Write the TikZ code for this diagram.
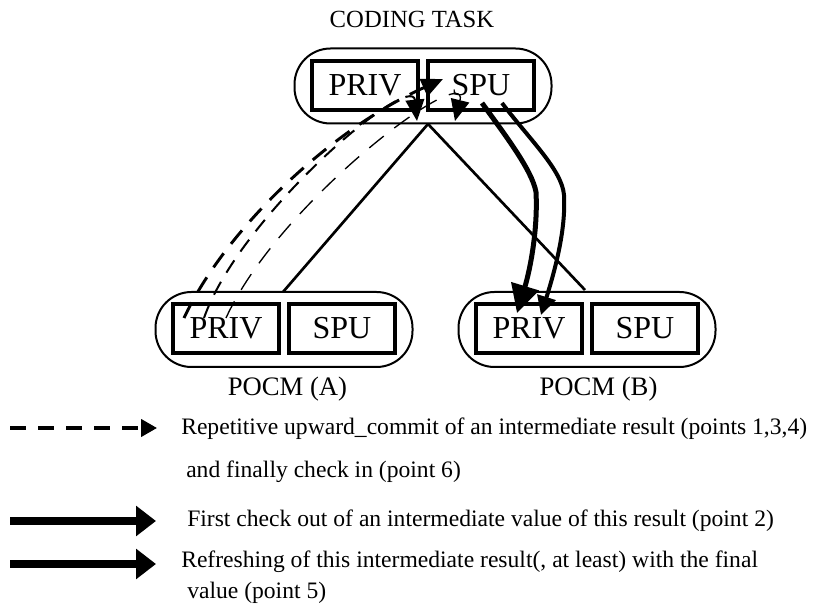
\documentclass[tikz,border=0pt]{standalone}
\usepackage{fontspec}
\setmainfont{Liberation Serif}
\usetikzlibrary{arrows.meta}

\begin{document}
\begin{tikzpicture}[x=0.75pt,y=-0.75pt,
  cell/.style={draw, line width=3pt, minimum width=79.5pt, minimum height=36.75pt,
    inner sep=0pt, font=\fontsize{24}{24}\selectfont},
  pocm/.style={draw, line width=1.5pt, rounded corners=27pt,
    minimum width=192.75pt, minimum height=56.25pt, inner sep=0pt},
  caption/.style={font=\fontsize{20}{20}\selectfont, inner sep=0pt},
  legtext/.style={font=\fontsize{17.7}{17.7}\selectfont, inner sep=0pt, anchor=base west},
  vline/.style={line width=2pt},
  head/.style={-{Triangle[length=16pt,width=14pt]}},
  dashA/.style={line width=2.2pt, dash pattern=on 13pt off 9pt},
  dashB/.style={line width=1.5pt, dash pattern=on 11pt off 8pt},
  dashC/.style={line width=1pt, dash pattern=on 14pt off 10pt},
  thickA/.style={line width=3.75pt, -{Triangle[length=21pt,width=21pt]}},
  thickB/.style={line width=3pt, -{Triangle[length=14pt,width=14pt]}},
  legthick/.style={line width=5.5pt, -{Triangle[length=15pt,width=22pt]}},
  legdash/.style={line width=2.4pt, dash pattern=on 12pt off 9pt, -{Triangle[length=12pt,width=13pt]}}
]
\useasboundingbox (0,0) rectangle (818,605);

% coding task with its two cells
\node[font=\fontsize{18.5}{18.5}\selectfont, inner sep=0pt] (title) at (412,19) {CODING TASK};
\node[pocm] (topc) at (423,86) {};
\node[cell] (tpriv) at (365,85.5) {PRIV};
\node[cell] (tspu) at (481,85.5) {SPU};

% POCM (A)
\node[pocm] (ac) at (284,329.5) {};
\node[cell] (apriv) at (226,328.5) {PRIV};
\node[cell] (aspu) at (342,328.5) {SPU};
\node[caption] (alab) at (287.5,389) {POCM (A)};

% POCM (B)
\node[pocm] (bc) at (587,329.5) {};
\node[cell] (bpriv) at (529,328.5) {PRIV};
\node[cell] (bspu) at (645,328.5) {SPU};
\node[caption] (blab) at (598.5,389) {POCM (B)};

% hierarchy links
\coordinate (apex) at (428,124);
\coordinate (afoot) at (283,292);
\coordinate (bfoot) at (585,290);
\draw[vline] (apex) -- (afoot);
\draw[vline] (apex) -- (bfoot);

% upward commits from POCM (A)
\coordinate (s1) at (184,318);
\coordinate (s2) at (204,318);
\coordinate (s3) at (226,318);
\coordinate (e1) at (443,79);
\coordinate (e2) at (417,121);
\coordinate (e3) at (455,121);
\draw[dashA, head] (s1) .. controls (225,230) and (330,130) .. (e1);
\draw[dashB, head] (s2) .. controls (240,215) and (412,70) .. (e2);
\draw[dashC, head] (s3) .. controls (280,200) and (470,60) .. (e3);

% check out and refresh towards POCM (B)
\coordinate (t1) at (482,103);
\coordinate (t2) at (502,103);
\coordinate (k1) at (536,192);
\coordinate (k2) at (564,195);
\coordinate (f1) at (517,313);
\coordinate (f2) at (541,315);
\draw[thickA] (t1) .. controls (505,135) and (532,170) .. (k1)
  .. controls (538,230) and (530,270) .. (f1);
\draw[thickB] (t2) .. controls (530,140) and (562,170) .. (k2)
  .. controls (566,230) and (555,270) .. (f2);

% legend
\coordinate (l1a) at (10,428); \coordinate (l1b) at (157,428);
\coordinate (l2a) at (10,521); \coordinate (l2b) at (156,521);
\coordinate (l3a) at (10,564); \coordinate (l3b) at (156,564);
\draw[legdash] (l1a) -- (l1b);
\draw[legthick] (l2a) -- (l2b);
\draw[legthick] (l3a) -- (l3b);
\node[legtext] (txt1) at (181,435) {Repetitive upward\_commit of an intermediate result (points 1,3,4)};
\node[legtext] (txt1b) at (186,478) {and finally check in (point 6)};
\node[legtext] (txt2) at (187,527) {First check out of an intermediate value of this result (point 2)};
\node[legtext] (txt3) at (181,568) {Refreshing of this intermediate result(, at least) with the final};
\node[legtext] (txt3b) at (187,599) {value (point 5)};
\end{tikzpicture}
\end{document}
